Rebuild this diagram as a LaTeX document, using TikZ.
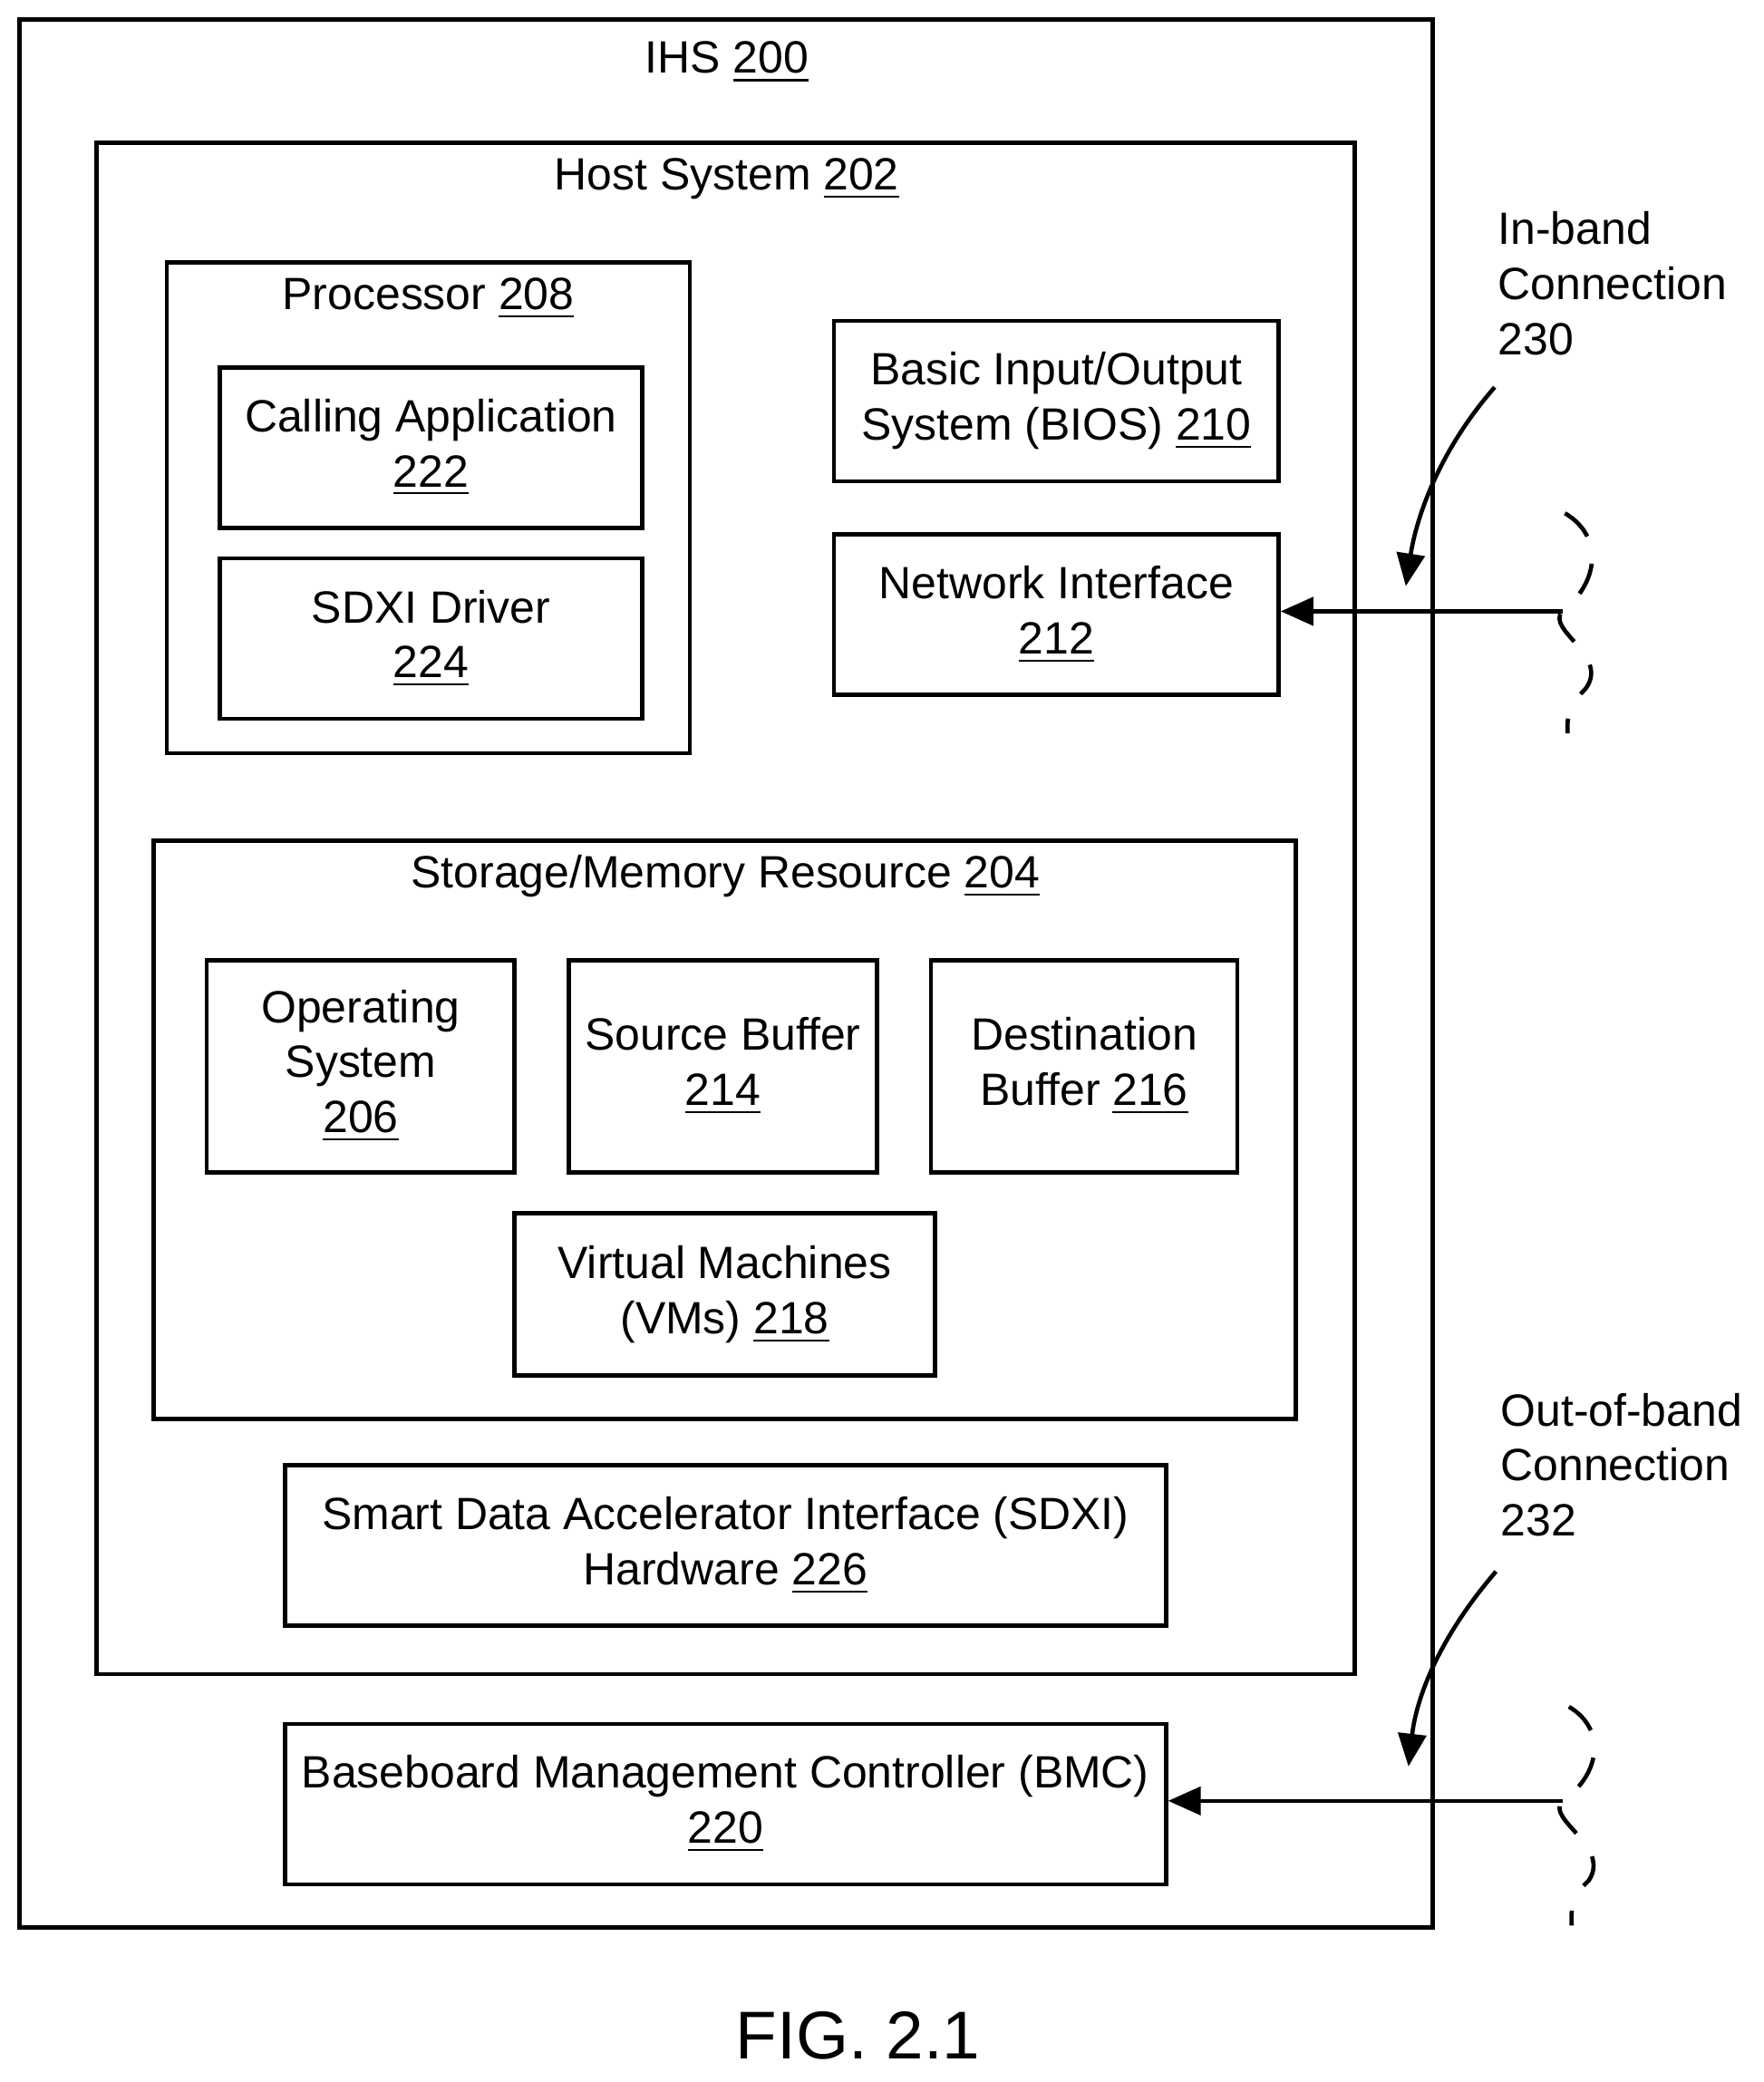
\documentclass[tikz,border=0pt]{standalone}
\usepackage{fontspec}
\setmainfont{Liberation Sans}
\usetikzlibrary{positioning,arrows.meta}

\begin{document}
\begin{tikzpicture}[x=0.01cm,y=-0.01cm,line width=0.9pt,font=\fontsize{9.7}{11.8}\selectfont]
    \tikzstyle{box}=[draw,rectangle,align=center,inner sep=0pt]
    \tikzstyle{lbl}=[align=center,inner sep=0pt]
    \tikzstyle{edge}=[-{Triangle[length=7pt,width=6pt]}]
    \tikzstyle{wavy}=[dash pattern=on 7pt off 6pt]
    \useasboundingbox (0,0) rectangle (1330,1570);

    \node[box,minimum width=10.65cm,minimum height=14.38cm] (ihsbox) at (547.5,734) {};
    \node[lbl] (ihs) at (548,47) {IHS \underline{200}};
    \node[box,minimum width=9.48cm,minimum height=11.54cm] (hostbox) at (547,685) {};
    \node[lbl] (host) at (548,135) {Host System \underline{202}};
    \node[box,minimum width=3.94cm,minimum height=3.70cm] (procbox) at (323,383) {};
    \node[lbl] (proc) at (323,225) {Processor \underline{208}};

    \node[box,minimum width=3.18cm,minimum height=1.21cm] (app) at (325,337.5) {Calling Application\\\underline{222}};
    \node[box,minimum width=3.18cm,minimum height=1.21cm] (drv) at (325,481.5) {SDXI Driver\\\underline{224}};
    \node[box,minimum width=3.35cm,minimum height=1.21cm] (bios) at (796.5,302.5) {Basic Input/Output\\System (BIOS) \underline{210}};
    \node[box,minimum width=3.35cm,minimum height=1.21cm] (nic) at (796.5,463.5) {Network Interface\\\underline{212}};

    \node[box,minimum width=8.61cm,minimum height=4.36cm] (membox) at (546.5,852) {};
    \node[lbl] (mem) at (547,661) {Storage/Memory Resource \underline{204}};
    \node[box,minimum width=2.32cm,minimum height=1.60cm] (os) at (272,804) {Operating\\System\\\underline{206}};
    \node[box,minimum width=2.32cm,minimum height=1.60cm] (src) at (545,804) {Source Buffer\\\underline{214}};
    \node[box,minimum width=2.31cm,minimum height=1.60cm] (dst) at (817.5,804) {Destination\\Buffer \underline{216}};
    \node[box,minimum width=3.17cm,minimum height=1.22cm] (vm) at (546.5,976) {Virtual Machines\\(VMs) \underline{218}};

    \node[box,minimum width=6.64cm,minimum height=1.21cm] (hw) at (547,1165.5) {Smart Data Accelerator Interface (SDXI)\\Hardware \underline{226}};
    \node[box,minimum width=6.64cm,minimum height=1.21cm] (bmc) at (547,1360.5) {Baseboard Management Controller (BMC)\\\underline{220}};

    % connections
    \node[lbl,align=left,anchor=north west] (inband) at (1128,158) {In-band\\Connection\\230};
    \node[lbl,align=left,anchor=north west] (outband) at (1130,1049) {Out-of-band\\Connection\\232};
    \coordinate (w1) at (1178,461);
    \coordinate (w2) at (1178,1358);
    \coordinate (c1) at (1127,292);
    \coordinate (c2) at (1128,1185);
    \draw[edge] (w1) -- (nic.east |- w1);
    \draw[edge] (w2) -- (bmc.east |- w2);
    \draw[edge] (c1) .. controls (1085,340) and (1068,390) .. (1060,442);
    \draw[edge] (c2) .. controls (1085,1235) and (1068,1280) .. (1062,1332);
    \draw[wavy] (1180,387) .. controls (1210,405) and (1205,440) .. (w1)
        .. controls (1165,475) and (1215,495) .. (1195,520) .. controls (1180,535) and (1182,545) .. (1182,553);
    \draw[wavy] (1183,1287) .. controls (1213,1305) and (1205,1340) .. (w2)
        .. controls (1165,1372) and (1215,1392) .. (1198,1418) .. controls (1183,1432) and (1185,1442) .. (1185,1452);

    \node[lbl,font=\fontsize{14.5}{17}\selectfont] (fig) at (647,1535) {FIG. 2.1};
\end{tikzpicture}
\end{document}
